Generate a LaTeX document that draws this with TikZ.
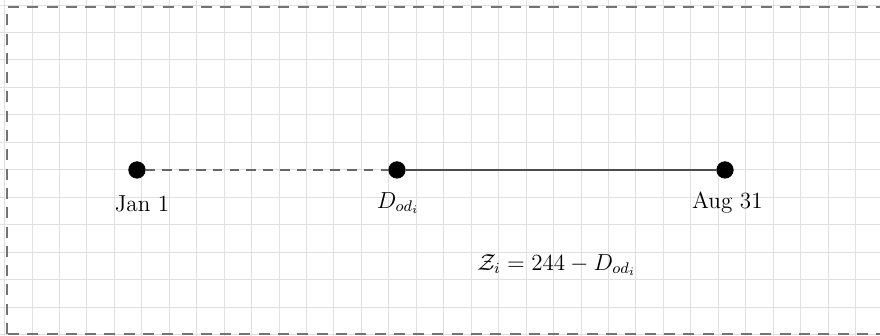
\documentclass[tikz,border=0pt]{standalone}
\begin{document}
\begin{tikzpicture}[x=1cm,y=1cm,
  dot/.style={draw, circle, fill=black, inner sep=0pt, minimum size=0.3cm},
  lbl/.style={anchor=base, font=\large}]
\clip (0,0) rectangle (16.03,6.12);
\draw[black!12, line width=0.5pt, step=0.5, shift={(0.083,0.028)}] (-0.5,-0.5) grid (16.5,6.5);
\draw[black!55, line width=1pt, dash pattern=on 5.7pt off 4.3pt] (0.128,0.036) rectangle (16.6,5.99);
\node[dot] (jan) at (2.495,3.024) {};
\node[dot] (dod) at (7.231,3.024) {};
\node[dot] (aug) at (13.206,3.024) {};
\node[lbl] (janl) at (2.587,2.26) {Jan 1};
\node[lbl] (dodl) at (7.25,2.33) {$D_{od_i}$};
\node[lbl] (augl) at (13.25,2.33) {Aug 31};
\node[lbl] (zi) at (10.14,1.20) {$\mathcal{Z}_i = 244 - D_{od_i}$};
\draw[black!60, line width=1pt, dash pattern=on 5pt off 3.7pt] (jan) -- (dod);
\draw[black!70, line width=1pt] (dod) -- (aug);
\end{tikzpicture}
\end{document}
